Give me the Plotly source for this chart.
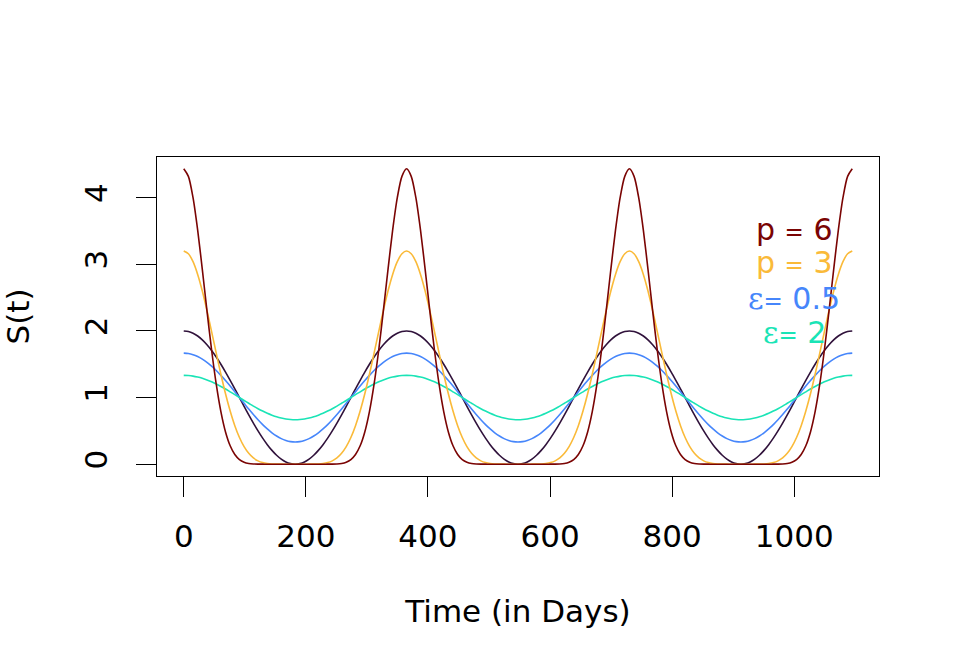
import plotly.graph_objects as go

# Time axis (days): sampling grid every 365/48 days over three years (0..1095)
days = [round(i * 365 / 48, 3) for i in range(145)]

s_base = [
    2, 1.991, 1.966, 1.924, 1.866, 1.793, 1.707, 1.609, 1.5, 1.383, 1.259, 1.131, 1, 0.869, 0.741, 0.617, 0.5, 0.391, 0.293, 0.207, 0.134, 0.076, 0.034, 0.009, 0,
    0.009, 0.034, 0.076, 0.134, 0.207, 0.293, 0.391, 0.5, 0.617, 0.741, 0.869, 1, 1.131, 1.259, 1.383, 1.5, 1.609, 1.707, 1.793, 1.866, 1.924, 1.966, 1.991,
    2, 1.991, 1.966, 1.924, 1.866, 1.793, 1.707, 1.609, 1.5, 1.383, 1.259, 1.131, 1, 0.869, 0.741, 0.617, 0.5, 0.391, 0.293, 0.207, 0.134, 0.076, 0.034, 0.009, 0,
    0.009, 0.034, 0.076, 0.134, 0.207, 0.293, 0.391, 0.5, 0.617, 0.741, 0.869, 1, 1.131, 1.259, 1.383, 1.5, 1.609, 1.707, 1.793, 1.866, 1.924, 1.966, 1.991,
    2, 1.991, 1.966, 1.924, 1.866, 1.793, 1.707, 1.609, 1.5, 1.383, 1.259, 1.131, 1, 0.869, 0.741, 0.617, 0.5, 0.391, 0.293, 0.207, 0.134, 0.076, 0.034, 0.009, 0,
    0.009, 0.034, 0.076, 0.134, 0.207, 0.293, 0.391, 0.5, 0.617, 0.741, 0.869, 1, 1.131, 1.259, 1.383, 1.5, 1.609, 1.707, 1.793, 1.866, 1.924, 1.966, 1.991,
    2,
]

s_p6 = [
    4.433, 4.320, 3.999, 3.512, 2.924, 2.304, 1.714, 1.201, 0.789, 0.484, 0.276, 0.145, 0.069, 0.030, 0.0115, 0.0038, 0.0011, 0.0003, 0, 0, 0, 0, 0, 0, 0,
    0, 0, 0, 0, 0, 0, 0.0003, 0.0011, 0.0038, 0.0115, 0.030, 0.069, 0.145, 0.276, 0.484, 0.789, 1.201, 1.714, 2.304, 2.924, 3.512, 3.999, 4.320,
    4.433, 4.320, 3.999, 3.512, 2.924, 2.304, 1.714, 1.201, 0.789, 0.484, 0.276, 0.145, 0.069, 0.030, 0.0115, 0.0038, 0.0011, 0.0003, 0, 0, 0, 0, 0, 0, 0,
    0, 0, 0, 0, 0, 0, 0.0003, 0.0011, 0.0038, 0.0115, 0.030, 0.069, 0.145, 0.276, 0.484, 0.789, 1.201, 1.714, 2.304, 2.924, 3.512, 3.999, 4.320,
    4.433, 4.320, 3.999, 3.512, 2.924, 2.304, 1.714, 1.201, 0.789, 0.484, 0.276, 0.145, 0.069, 0.030, 0.0115, 0.0038, 0.0011, 0.0003, 0, 0, 0, 0, 0, 0, 0,
    0, 0, 0, 0, 0, 0, 0.0003, 0.0011, 0.0038, 0.0115, 0.030, 0.069, 0.145, 0.276, 0.484, 0.789, 1.201, 1.714, 2.304, 2.924, 3.512, 3.999, 4.320,
    4.433,
]

s_p3 = [
    3.2, 3.159, 3.039, 2.848, 2.599, 2.307, 1.990, 1.666, 1.35, 1.057, 0.798, 0.578, 0.4, 0.263, 0.163, 0.094, 0.05, 0.024, 0.010, 0.0035, 0.001, 0.0002, 0, 0, 0,
    0, 0, 0.0002, 0.001, 0.0035, 0.010, 0.024, 0.05, 0.094, 0.163, 0.263, 0.4, 0.578, 0.798, 1.057, 1.35, 1.666, 1.990, 2.307, 2.599, 2.848, 3.039, 3.159,
    3.2, 3.159, 3.039, 2.848, 2.599, 2.307, 1.990, 1.666, 1.35, 1.057, 0.798, 0.578, 0.4, 0.263, 0.163, 0.094, 0.05, 0.024, 0.010, 0.0035, 0.001, 0.0002, 0, 0, 0,
    0, 0, 0.0002, 0.001, 0.0035, 0.010, 0.024, 0.05, 0.094, 0.163, 0.263, 0.4, 0.578, 0.798, 1.057, 1.35, 1.666, 1.990, 2.307, 2.599, 2.848, 3.039, 3.159,
    3.2, 3.159, 3.039, 2.848, 2.599, 2.307, 1.990, 1.666, 1.35, 1.057, 0.798, 0.578, 0.4, 0.263, 0.163, 0.094, 0.05, 0.024, 0.010, 0.0035, 0.001, 0.0002, 0, 0, 0,
    0, 0, 0.0002, 0.001, 0.0035, 0.010, 0.024, 0.05, 0.094, 0.163, 0.263, 0.4, 0.578, 0.798, 1.057, 1.35, 1.666, 1.990, 2.307, 2.599, 2.848, 3.039, 3.159,
    3.2,
]

s_eps05 = [
    1.667, 1.661, 1.644, 1.616, 1.577, 1.529, 1.471, 1.406, 1.333, 1.255, 1.173, 1.087, 1, 0.913, 0.827, 0.745, 0.667, 0.594, 0.529, 0.471, 0.423, 0.384, 0.356, 0.339, 0.333,
    0.339, 0.356, 0.384, 0.423, 0.471, 0.529, 0.594, 0.667, 0.745, 0.827, 0.913, 1, 1.087, 1.173, 1.255, 1.333, 1.406, 1.471, 1.529, 1.577, 1.616, 1.644, 1.661,
    1.667, 1.661, 1.644, 1.616, 1.577, 1.529, 1.471, 1.406, 1.333, 1.255, 1.173, 1.087, 1, 0.913, 0.827, 0.745, 0.667, 0.594, 0.529, 0.471, 0.423, 0.384, 0.356, 0.339, 0.333,
    0.339, 0.356, 0.384, 0.423, 0.471, 0.529, 0.594, 0.667, 0.745, 0.827, 0.913, 1, 1.087, 1.173, 1.255, 1.333, 1.406, 1.471, 1.529, 1.577, 1.616, 1.644, 1.661,
    1.667, 1.661, 1.644, 1.616, 1.577, 1.529, 1.471, 1.406, 1.333, 1.255, 1.173, 1.087, 1, 0.913, 0.827, 0.745, 0.667, 0.594, 0.529, 0.471, 0.423, 0.384, 0.356, 0.339, 0.333,
    0.339, 0.356, 0.384, 0.423, 0.471, 0.529, 0.594, 0.667, 0.745, 0.827, 0.913, 1, 1.087, 1.173, 1.255, 1.333, 1.406, 1.471, 1.529, 1.577, 1.616, 1.644, 1.661,
    1.667,
]

s_eps2 = [
    1.333, 1.330, 1.322, 1.308, 1.289, 1.264, 1.236, 1.203, 1.167, 1.128, 1.086, 1.044, 1, 0.956, 0.914, 0.872, 0.833, 0.797, 0.764, 0.736, 0.711, 0.692, 0.678, 0.670, 0.667,
    0.670, 0.678, 0.692, 0.711, 0.736, 0.764, 0.797, 0.833, 0.872, 0.914, 0.956, 1, 1.044, 1.086, 1.128, 1.167, 1.203, 1.236, 1.264, 1.289, 1.308, 1.322, 1.330,
    1.333, 1.330, 1.322, 1.308, 1.289, 1.264, 1.236, 1.203, 1.167, 1.128, 1.086, 1.044, 1, 0.956, 0.914, 0.872, 0.833, 0.797, 0.764, 0.736, 0.711, 0.692, 0.678, 0.670, 0.667,
    0.670, 0.678, 0.692, 0.711, 0.736, 0.764, 0.797, 0.833, 0.872, 0.914, 0.956, 1, 1.044, 1.086, 1.128, 1.167, 1.203, 1.236, 1.264, 1.289, 1.308, 1.322, 1.330,
    1.333, 1.330, 1.322, 1.308, 1.289, 1.264, 1.236, 1.203, 1.167, 1.128, 1.086, 1.044, 1, 0.956, 0.914, 0.872, 0.833, 0.797, 0.764, 0.736, 0.711, 0.692, 0.678, 0.670, 0.667,
    0.670, 0.678, 0.692, 0.711, 0.736, 0.764, 0.797, 0.833, 0.872, 0.914, 0.956, 1, 1.044, 1.086, 1.128, 1.167, 1.203, 1.236, 1.264, 1.289, 1.308, 1.322, 1.330,
    1.333,
]

x_ticks = [0, 200, 400, 600, 800, 1000]
y_ticks = [0, 1, 2, 3, 4]

col_base = "#30123B"
col_p6 = "#7A0403"
col_p3 = "#FABA39"
col_e05 = "#4686FB"
col_e2 = "#1AE4B6"

FONT = "DejaVu Sans"
FS = 31
FS_LEG = 30

fig = go.Figure()
for ys, c in [(s_base, col_base), (s_eps05, col_e05), (s_eps2, col_e2),
              (s_p3, col_p3), (s_p6, col_p6)]:
    fig.add_trace(go.Scatter(
        x=days, y=ys, mode="lines",
        line=dict(color=c, width=1.6, shape="spline", smoothing=0.8),
        showlegend=False, hoverinfo="skip",
    ))

xmin, xmax = min(days), max(days)
xpad = 0.04 * (xmax - xmin)
ymax = max(s_p6)
ypad = 0.04 * ymax

fig.update_xaxes(
    range=[xmin - xpad, xmax + xpad],
    tickmode="array", tickvals=x_ticks, ticktext=[str(v) for v in x_ticks],
    ticks="outside", ticklen=20, tickwidth=1.3, tickcolor="black",
    showline=True, linecolor="black", linewidth=1.3, mirror=True,
    showgrid=False, zeroline=False,
    tickfont=dict(family=FONT, size=FS, color="black"),
    ticklabelstandoff=13,
    title=dict(text="Time (in Days)", font=dict(family=FONT, size=FS, color="black"),
               standoff=46),
)
fig.update_yaxes(
    range=[0 - ypad, ymax + ypad],
    tickmode="array", tickvals=y_ticks, ticktext=[str(v) for v in y_ticks],
    ticks="outside", ticklen=20, tickwidth=1.3, tickcolor="black",
    showline=True, linecolor="black", linewidth=1.3, mirror=True,
    showgrid=False, zeroline=False, tickangle=-90,
    tickfont=dict(family=FONT, size=FS, color="black"),
    ticklabelstandoff=16,
    title=dict(text="S(t)", font=dict(family=FONT, size=FS, color="black"),
               standoff=42),
)

legend_items = [
    ("p <span style='font-size:23px'>=</span> 6", col_p6, 3.52),
    ("p <span style='font-size:23px'>=</span> 3", col_p3, 3.03),
    ("<span style='font-family:DejaVu Serif'>ε</span><span style='font-size:23px'>=</span> 0.5", col_e05, 2.48),
    ("<span style='font-family:DejaVu Serif'>ε</span><span style='font-size:23px'>=</span> 2", col_e2, 1.98),
]
for txt, c, yv in legend_items:
    fig.add_annotation(
        x=1000, y=yv, xref="x", yref="y", text=txt, showarrow=False,
        xanchor="center", yanchor="middle",
        font=dict(family=FONT, size=FS_LEG, color=c),
    )

fig.update_layout(
    width=960, height=672,
    margin=dict(l=157, r=81, t=157, b=196),
    paper_bgcolor="white", plot_bgcolor="white",
    font=dict(family=FONT, size=FS, color="black"),
)

fig.write_html("out.html")
